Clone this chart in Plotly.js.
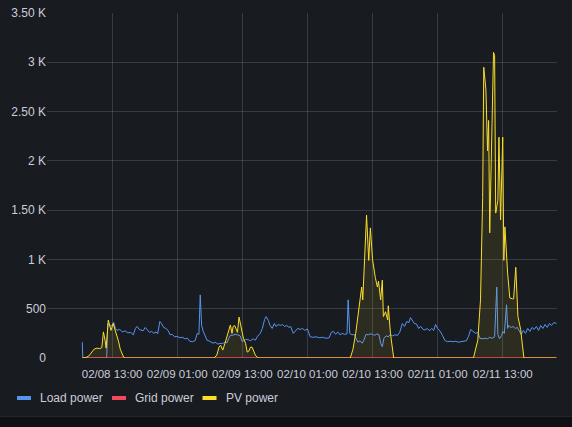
<!DOCTYPE html>
<html>
<head>
<meta charset="utf-8">
<script src="https://cdn.plot.ly/plotly-3.0.1.min.js"></script>
<style>
html,body{margin:0;padding:0;background:#0f1013;}
#chart{width:572px;height:416px;border-bottom:1px solid #24262b;}
</style>
</head>
<body>
<div id="chart"></div>
<script>
// Hours since 2024-02-08 00:00 and values (W)
const loadHours = [7.5,7.6,12.0,12.2,12.8,13.3,13.6,13.9,14.4,14.9,15.4,15.9,16.4,16.9,17.3,17.6,18.0,18.4,18.7,19.1,19.5,19.9,20.3,20.7,21.1,21.4,21.8,22.1,22.5,22.9,23.3,23.7,24.1,24.5,25.0,25.5,26.0,26.4,26.9,27.3,27.8,28.3,28.7,29.0,29.24,29.5,29.8,30.2,30.5,31.0,31.6,32.0,32.5,32.9,33.3,33.8,34.2,34.5,34.8,35.2,35.7,36.1,36.6,37.0,37.2,37.6,38.1,38.5,39.0,39.4,39.8,40.3,40.7,41.1,41.4,41.8,42.1,42.5,42.9,43.2,43.6,44.0,44.4,44.8,45.2,45.6,45.9,46.4,46.8,47.2,47.7,48.1,48.5,49.0,49.5,50.0,50.6,51.2,51.8,52.4,53.0,53.4,53.8,54.2,54.6,55.0,55.4,55.8,56.3,56.5,56.8,57.2,57.6,58.0,58.3,58.7,59.1,59.4,59.8,60.2,60.6,61.0,61.4,61.8,62.2,62.5,62.8,63.1,63.5,63.9,64.3,64.7,65.1,65.6,66.0,66.5,66.9,67.3,67.7,68.0,68.3,68.7,69.1,69.5,69.9,70.3,70.7,71.1,71.5,71.9,72.3,72.6,73.0,73.4,73.9,74.3,74.8,75.3,75.8,76.3,76.8,77.3,77.8,78.3,78.7,79.1,79.5,80.0,80.4,80.8,81.2,81.7,82.2,82.6,83.0,83.5,83.9,84.1,84.4,84.8,85.0,85.3,85.7,85.9,86.1,86.5,86.9,87.3,87.7,88.1,88.4,88.8,89.2,89.6,90.0,90.4,90.8,91.2,91.6,92.0,92.4,92.8,93.2,93.6,94.0,94.4,94.9];
const loadValues = [160,0,0,350,320,360,300,280,290,265,275,255,260,235,300,320,290,285,275,310,290,260,270,250,265,245,370,350,310,300,280,235,240,215,220,205,210,195,200,170,165,175,250,240,640,330,270,220,180,170,150,160,140,150,145,160,155,200,230,230,240,235,225,165,175,190,185,175,195,180,220,250,300,390,420,380,330,300,350,320,340,330,340,320,330,310,320,250,275,300,290,300,280,295,215,210,215,205,210,200,205,260,270,240,265,235,250,240,245,590,250,235,240,200,160,175,150,180,240,235,245,240,230,245,235,150,115,200,225,215,240,225,235,230,260,350,320,370,360,410,380,350,345,300,320,290,285,300,275,300,280,340,300,275,230,180,165,170,165,170,160,165,170,175,220,290,270,250,260,200,195,200,195,210,200,215,720,240,195,230,270,250,540,300,330,310,320,300,310,270,240,280,250,300,270,310,290,320,280,330,300,340,310,350,330,360,350];

const gridHours = [7.5,94.9];
const gridValues = [0,0];

const pvHours = [7.5,8.2,8.7,9.2,9.7,10.2,10.7,11.1,11.4,11.7,11.9,12.3,12.6,12.8,13.2,13.5,13.7,14.0,14.2,14.5,14.8,15.1,15.4,
  31.8,32.3,32.7,33.0,33.4,33.8,34.2,34.6,34.8,35.1,35.3,35.6,35.9,36.1,36.4,36.7,37.0,37.2,37.6,37.9,38.2,38.5,38.8,39.1,39.4,39.8,40.1,
  56.9,57.4,57.9,58.4,59.0,59.2,59.5,59.9,60.3,60.6,61.0,61.2,61.5,61.9,62.1,62.5,62.8,63.0,63.4,63.8,63.9,64.3,64.7,64.9,
  79.6,80.4,80.9,81.3,81.5,81.9,82.2,82.4,82.6,83.0,83.3,83.5,83.7,84.1,84.3,84.6,85.0,85.2,85.4,85.9,86.3,86.8,87.0,87.4,87.8,88.3,88.9,94.9];
const pvValues = [0,5,20,60,90,100,95,105,265,180,100,385,310,280,350,300,265,220,165,90,40,10,0,
  0,30,110,130,80,150,215,300,335,250,320,330,280,260,415,330,260,200,150,60,70,110,110,70,30,5,0,
  0,90,250,480,720,590,990,1450,990,1320,1000,920,820,720,780,590,790,420,470,385,530,250,80,0,
  0,180,590,1630,2950,2720,2100,2410,1270,2210,3100,3070,1470,1600,2240,1400,2240,990,1330,860,610,600,600,920,420,290,0,0];

const yTickVals = [0,500,1000,1500,2000,2500,3000,3500];
const yTickText = ['0','500','1 K','1.50 K','2 K','2.50 K','3 K','3.50 K'];
const xTickHours = [13,25,37,49,61,73,85];
const seriesNames = ['Load power','Grid power','PV power'];
const seriesColors = ['#5794F2','#F2495C','#FADE2A'];

function toDate(h){
  const ms = Date.UTC(2024,1,8,0,0,0) + h*3600000;
  return new Date(ms).toISOString().replace('T',' ').slice(0,19);
}

const traces = [
  {x: loadHours.map(toDate), y: loadValues, name: seriesNames[0], type:'scatter', mode:'lines',
   line:{color:seriesColors[0], width:1}},
  {x: gridHours.map(toDate), y: gridValues, name: seriesNames[1], type:'scatter', mode:'lines',
   line:{color:seriesColors[1], width:1.5}},
  {x: pvHours.map(toDate), y: pvValues, name: seriesNames[2], type:'scatter', mode:'lines',
   line:{color:seriesColors[2], width:1}, fill:'tozeroy', fillcolor:'rgba(250,222,42,0.09)'}
];

// custom legend (Grafana style short bars)
const FONT = '"Liberation Sans", Arial, sans-serif';
const plotW = 510, plotH = 345, plotL = 47, plotB = 358;
const legendItems = [{bx:17, tx:39},{bx:112, tx:134},{bx:202.5, tx:225}];
const legendY = 398;
const shapes = [], annotations = [];
legendItems.forEach((it,i)=>{
  shapes.push({type:'line', xref:'paper', yref:'paper',
    x0:(it.bx-plotL)/plotW, x1:(it.bx+14-plotL)/plotW,
    y0:(plotB-legendY)/plotH, y1:(plotB-legendY)/plotH,
    line:{color:seriesColors[i], width:4}});
  annotations.push({xref:'paper', yref:'paper', x:(it.tx-plotL-1)/plotW, y:(plotB-legendY)/plotH,
    xanchor:'left', yanchor:'middle', text:seriesNames[i], showarrow:false,
    font:{family:FONT, size:12, color:'#ccccdc'}});
});

const layout = {
  width:572, height:416,
  paper_bgcolor:'#181b1f', plot_bgcolor:'#181b1f',
  margin:{l:47, r:15, t:13, b:58},
  font:{family:FONT, size:12, color:'#ccccdc'},
  showlegend:false,
  shapes:shapes, annotations:annotations,
  xaxis:{type:'date', range:[toDate(1), toDate(95)],
    tickvals:xTickHours.map(toDate), tickformat:'%m/%d %H:%M', tickangle:0, automargin:false,
    ticklabelstandoff:7,
    showgrid:true, gridcolor:'rgba(204,204,220,0.18)', gridwidth:1,
    zeroline:false, showline:false, ticks:'', ticklen:0, tickfont:{family:FONT, size:11.5, color:'#ccccdc'}},
  yaxis:{range:[0,3500], tickvals:yTickVals, ticktext:yTickText, automargin:false,
    showgrid:true, gridcolor:'rgba(204,204,220,0.18)', gridwidth:1,
    zeroline:false, showline:false, ticks:'', tickfont:{family:FONT, size:12, color:'#ccccdc'}}
};

Plotly.newPlot('chart', traces, layout, {displayModeBar:false, staticPlot:true});
</script>
</body>
</html>
